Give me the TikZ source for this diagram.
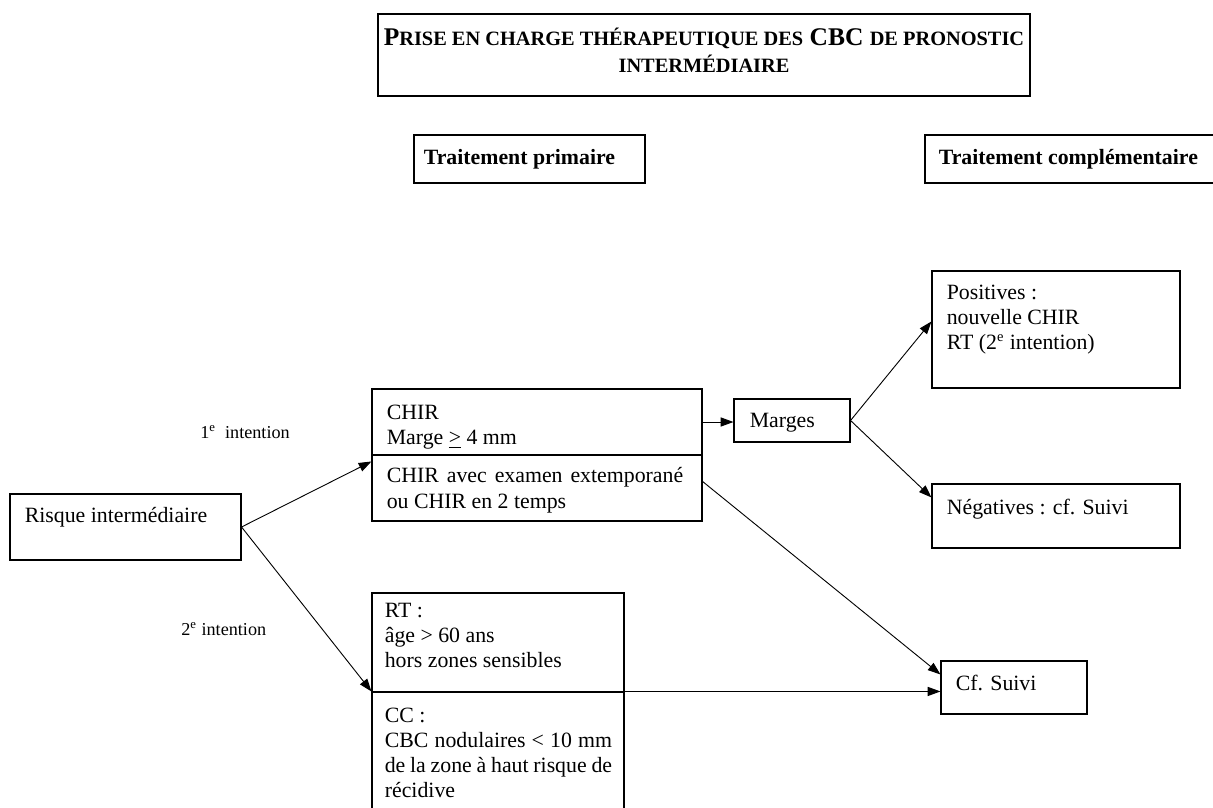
\documentclass[tikz,border=0pt]{standalone}
\usepackage{fontspec}
\setmainfont{Liberation Serif}
\usetikzlibrary{arrows.meta, calc, fit}

\newcommand{\petitcap}[1]{{\fontsize{11.2}{14.8}\selectfont #1}}

\begin{document}
\begin{tikzpicture}[x=0.55pt, y=-0.55pt,
    boite/.style={draw, line width=0.6pt, inner sep=0pt},
    texte/.style={anchor=north west, align=left, inner sep=0pt, font=\fontsize{12}{13.8}\selectfont},
    entete/.style={anchor=north west, inner sep=0pt, font=\fontsize{12}{13.8}\selectfont\bfseries},
    note/.style={anchor=base west, inner sep=0pt, font=\fontsize{10}{12}\selectfont},
    fleche/.style={-{Triangle[length=7pt, width=5pt]}, line width=0.5pt}]
    \clip (0,0) rectangle (1213,808);

    % titre et en-tetes
    \node[boite, fit={(378,14) (1030,96)}] (titre) {};
    \node[anchor=north, align=center, inner sep=0pt, font=\fontsize{14}{14.8}\selectfont\bfseries] (titretxt)
        at ($(titre.north)+(0,14)$) {P\petitcap{RISE EN CHARGE THÉRAPEUTIQUE DES} CBC \petitcap{DE PRONOSTIC}\\\petitcap{INTERMÉDIAIRE}};
    \node[boite, fit={(414,135) (645,183)}] (primaire) {};
    \node[entete] (primairetxt) at ($(primaire.north west)+(10,15)$) {Traitement primaire};
    \node[boite, fit={(925,135) (1240,183)}] (complement) {};
    \node[entete] (complementtxt) at ($(complement.north west)+(14,15)$) {Traitement complémentaire};

    % boites
    \node[boite, fit={(10,494) (241,560)}] (risque) {};
    \node[texte] (risquetxt) at ($(risque.north west)+(15,14)$) {Risque intermédiaire};
    \node[boite, fit={(372,389) (702,455)}] (chir) {};
    \node[texte] (chirtxt) at ($(chir.north west)+(15,16)$) {CHIR\\Marge \underline{>} 4 mm};
    \node[boite, fit={(372,455) (702,521)}] (chirx) {};
    \node[texte] (chirxtxt) at ($(chirx.north west)+(15,13)$) {\makebox[163pt][s]{CHIR avec examen extemporané}\\ou CHIR en 2 temps};
    \node[boite, fit={(734,399) (850,442)}] (marges) {};
    \node[texte] (margestxt) at ($(marges.north west)+(16,14)$) {Marges};
    \node[boite, fit={(932,271) (1180,388)}] (positives) {};
    \node[texte] (positivestxt) at ($(positives.north west)+(15,14)$) {Positives :\\nouvelle CHIR\\RT (2\textsuperscript{e} intention)};
    \node[boite, fit={(932,484) (1180,548)}] (negatives) {};
    \node[texte] (negativestxt) at ($(negatives.north west)+(15,15)$) {Négatives : cf. Suivi};
    \node[boite, fit={(372,593) (624,692)}] (rt) {};
    \node[texte] (rttxt) at ($(rt.north west)+(13,10)$) {RT :\\âge > 60 ans\\hors zones sensibles};
    \node[boite, fit={(372,692) (624,840)}] (cc) {};
    \node[texte] (cctxt) at ($(cc.north west)+(13,16)$) {CC :\\\makebox[125pt][s]{CBC nodulaires < 10 mm}\\\makebox[125pt][s]{de la zone à haut risque de}\\récidive};
    \node[boite, fit={(941,661) (1087,714)}] (suivi) {};
    \node[texte] (suivitxt) at ($(suivi.north west)+(15,14)$) {Cf. Suivi};

    % intentions
    \node[note] (premiere) at (200,438) {1\textsuperscript{e}\ \ intention};
    \node[note] (deuxieme) at (181,635) {2\textsuperscript{e} intention};

    % fleches
    \draw[fleche] (risque.east) -- ($(chirx.north west)+(0,7)$);
    \draw[fleche] (risque.east) -- (cc.north west);
    \draw[fleche] (chir.east) -- (chir.east -| marges.west);
    \draw[fleche] (marges.east) -- ($(positives.north west)+(0,51)$);
    \draw[fleche] (marges.east) -- ($(negatives.north west)+(0,14)$);
    \draw[fleche] ($(chirx.north east)+(0,27)$) -- ($(suivi.north west)+(0,14)$);
    \draw[fleche] (cc.north east) -- (cc.north east -| suivi.west);
\end{tikzpicture}
\end{document}
